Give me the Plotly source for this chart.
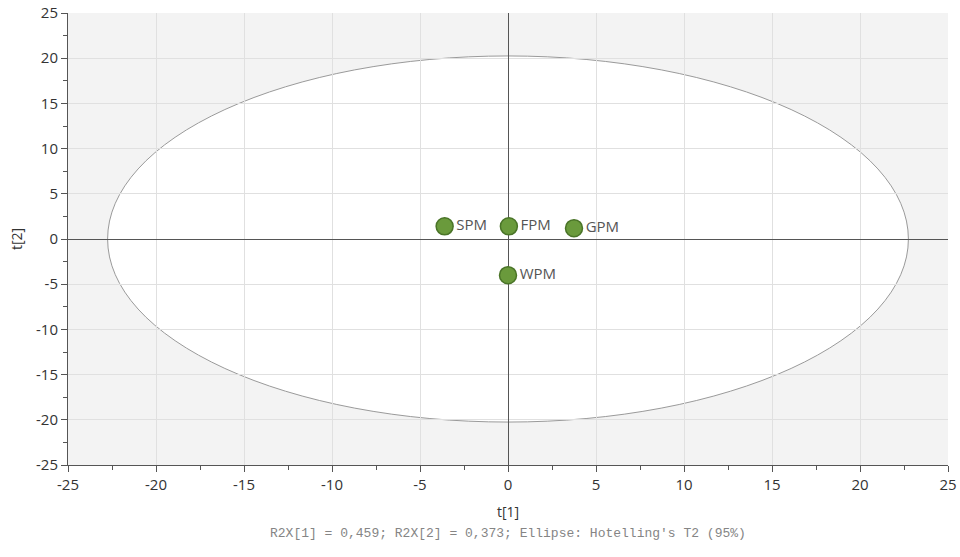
import plotly.graph_objects as go

# Score scatter t[1] vs t[2]
names = ["SPM", "FPM", "GPM", "WPM"]
t1 = [-3.6, 0.05, 3.75, 0.0]
t2 = [1.4, 1.4, 1.2, -4.0]

# Hotelling's T2 (95%) ellipse semi-axes
ell_a = 22.75
ell_b = 20.25

tick_vals = [-25, -20, -15, -10, -5, 0, 5, 10, 15, 20, 25]
tick_text = [str(v) for v in tick_vals]
footer = "R2X[1] = 0,459; R2X[2] = 0,373; Ellipse: Hotelling's T2 (95%)"

fig = go.Figure()
fig.add_trace(go.Scatter(
    x=t1, y=t2, mode="markers+text", text=names,
    textposition="middle right",
    textfont=dict(family="Open Sans", size=15, color="#555555"),
    marker=dict(size=17, color="#6a9a3c", line=dict(color="#4a7428", width=1.5)),
    cliponaxis=False, hoverinfo="skip",
))

fig.add_shape(type="circle", xref="x", yref="y",
              x0=-ell_a, x1=ell_a, y0=-ell_b, y1=ell_b,
              fillcolor="white", line=dict(color="#9a9a9a", width=1),
              layer="below")

axis_common = dict(
    range=[-25, 25], tickvals=tick_vals, ticktext=tick_text,
    showgrid=True, gridcolor="#e0e0e0", gridwidth=1,
    zeroline=True, zerolinecolor="#555555", zerolinewidth=1,
    showline=True, linecolor="#555555", linewidth=1,
    ticks="outside", ticklen=6, tickcolor="#555555",
    minor=dict(ticks="outside", dtick=2.5, tick0=0, ticklen=4,
               tickcolor="#555555", showgrid=False),
    tickfont=dict(family="Open Sans", size=15, color="#333333"),
    fixedrange=True, automargin=False,
)

fig.update_xaxes(**axis_common,
                 title=dict(text="t[1]", font=dict(family="Open Sans", size=14, color="#333333"),
                            standoff=14))
fig.update_yaxes(**axis_common,
                 title=dict(text="t[2]", font=dict(family="Open Sans", size=14, color="#333333"),
                            standoff=10))

fig.add_annotation(text=footer, xref="paper", yref="paper", x=0.5, y=-0.13,
                   xanchor="center", yanchor="top", showarrow=False,
                   font=dict(family="Liberation Mono", size=13, color="#858585"))

fig.update_layout(
    width=960, height=557,
    margin=dict(l=68, r=12, t=13, b=92),
    plot_bgcolor="#f3f3f3", paper_bgcolor="white",
    showlegend=False,
)

fig.write_html("out.html")
